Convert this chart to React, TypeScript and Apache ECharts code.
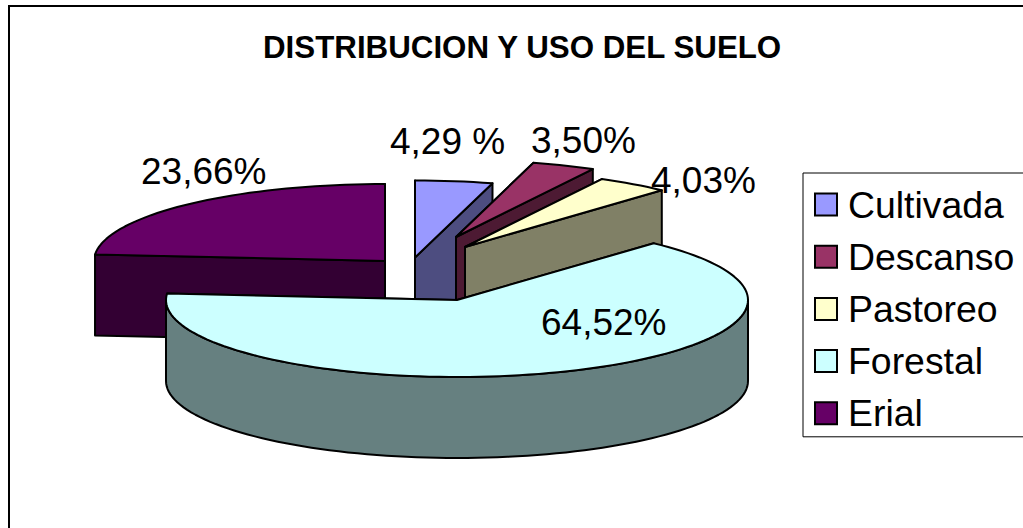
import React, { useEffect, useRef } from "react";
import * as echarts from "echarts";

const titleText = "DISTRIBUCION Y USO DEL SUELO";
const categories = ["Cultivada", "Descanso", "Pastoreo", "Forestal", "Erial"];
const values = [4.29, 3.5, 4.03, 64.52, 23.66];
const valueLabels = ["4,29 %", "3,50%", "4,03%", "64,52%", "23,66%"];

const topColors = ["#9999FF", "#993366", "#FFFFCC", "#CCFFFF", "#660066"];
const sideColors = ["#4D4D80", "#4D1A33", "#808066", "#668080", "#330033"];
const drawOrder = [3, 4, 5, 6, 2];
const centers = [
  [415, 257.5],
  [456, 237],
  [465, 247],
  [457, 300],
  [385, 261],
];
const labelPositions = [
  [390, 141],
  [531, 140],
  [651, 180],
  [541, 322],
  [141, 171],
];
const RX = 291;
const RY = 77;
const DEPTH = 81;
const STROKE = "#000000";
const FONT = "Liberation Sans";

const total = values.reduce((a, b) => a + b, 0);
const startFraction = (i: number) => values.slice(0, i).reduce((a, b) => a + b, 0) / total;

const arcPoints = (cx: number, cy: number, a0: number, a1: number) => {
  const pts: number[][] = [];
  const n = Math.max(2, Math.ceil(((a1 - a0) * 180) / Math.PI / 2));
  for (let k = 0; k <= n; k++) {
    const t = a0 + ((a1 - a0) * k) / n;
    pts.push([cx + RX * Math.sin(t), cy - RY * Math.cos(t)]);
  }
  return pts;
};

const makeSeries = (i: number) => ({
  type: "custom",
  name: categories[i],
  coordinateSystem: "none",
  z: drawOrder[i],
  clip: false,
  silent: true,
  itemStyle: { color: topColors[i] },
  data: [[values[i]]],
  renderItem: (_params: any, api: any) => {
    const v = api.value(0) as number;
    const a0 = startFraction(i) * 2 * Math.PI;
    const a1 = a0 + (v / total) * 2 * Math.PI;
    const [cx, cy] = centers[i];
    const side = { fill: sideColors[i], stroke: STROKE, lineWidth: 2, lineJoin: "round" };
    const top = arcPoints(cx, cy, a0, a1);
    const first = top[0];
    const last = top[top.length - 1];
    const children: any[] = [];
    children.push({
      type: "polygon",
      z2: 1,
      shape: { points: [[cx, cy], first, [first[0], first[1] + DEPTH], [cx, cy + DEPTH]] },
      style: side,
    });
    children.push({
      type: "polygon",
      z2: 2,
      shape: { points: [[cx, cy], last, [last[0], last[1] + DEPTH], [cx, cy + DEPTH]] },
      style: side,
    });
    const f0 = Math.max(a0, Math.PI / 2);
    const f1 = Math.min(a1, (3 * Math.PI) / 2);
    if (f1 > f0) {
      const arc = arcPoints(cx, cy, f0, f1);
      const lower = arc.map((p) => [p[0], p[1] + DEPTH]).reverse();
      children.push({
        type: "polygon",
        z2: 3,
        shape: { points: [...arc, ...lower] },
        style: side,
      });
    }
    children.push({
      type: "polygon",
      z2: 4,
      shape: { points: [[cx, cy], ...top] },
      style: { fill: topColors[i], stroke: STROKE, lineWidth: 2, lineJoin: "round" },
    });
    children.push({
      type: "text",
      z2: 5,
      x: labelPositions[i][0],
      y: labelPositions[i][1],
      style: {
        text: valueLabels[i],
        fill: "#000000",
        font: `37px "${FONT}"`,
        textAlign: "left",
        textVerticalAlign: "middle",
      },
    });
    return { type: "group", children };
  },
});

export default function App() {
  const ref = useRef<HTMLDivElement>(null);
  useEffect(() => {
    const chart = echarts.init(ref.current!, null, { renderer: "svg" });
    chart.setOption({
      animation: false,
      backgroundColor: "#ffffff",
      title: {
        text: titleText,
        left: 263,
        top: 32,
        padding: 0,
        textStyle: { fontFamily: FONT, fontSize: 31.3, fontWeight: "bold", color: "#000" },
      },
      legend: {
        data: categories,
        orient: "vertical",
        left: 803,
        top: 173,
        padding: [13, 60, 5, 11],
        itemWidth: 22,
        itemHeight: 22,
        itemGap: 15.2,
        icon: "rect",
        selectedMode: false,
        borderColor: "#000000",
        borderWidth: 1,
        itemStyle: { borderColor: "#000000", borderWidth: 2 },
        textStyle: { fontFamily: FONT, fontSize: 37.4, color: "#000", padding: [0, 0, 0, 6] },
      },
      graphic: [
        {
          type: "rect",
          shape: { x: 9, y: 6, width: 1200, height: 800 },
          style: { fill: "transparent", stroke: "#000000", lineWidth: 2 },
          silent: true,
          z: 0,
        },
      ],
      series: categories.map((_, i) => makeSeries(i)),
    });
    return () => chart.dispose();
  }, []);
  return <div ref={ref} style={{ position: "fixed", left: 0, top: 0, width: 1023, height: 528 }} />;
}
